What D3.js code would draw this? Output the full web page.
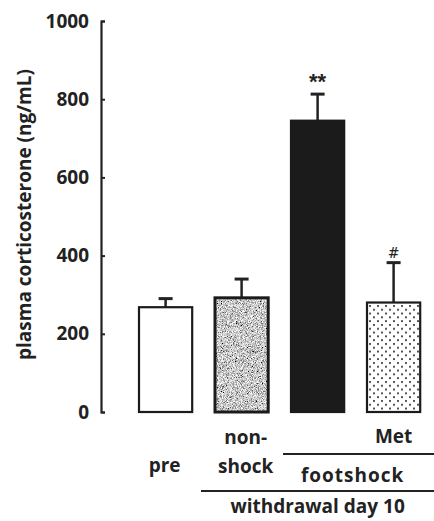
<!DOCTYPE html>
<html>
<head>
<meta charset="utf-8">
<script src="https://cdn.jsdelivr.net/npm/d3@7"></script>
<style>
  html, body { margin: 0; padding: 0; background: #fff; }
  svg { display: block; font-family: "Open Sans", sans-serif; }
</style>
</head>
<body>
<div class="chart"></div>
<script>
(function () {
  'use strict';

  // values
  var categories = ["pre", "non-shock", "footshock", "Met"];
  var means = [268, 292, 745, 280];
  var sems = [22, 48, 68, 102];
  var marks = ["", "", "**", "#"];
  var yTicks = [0, 200, 400, 600, 800, 1000];

  var w = 434;
  var h = 521;

  var svg = d3.select(".chart").append("svg").attr("width", w).attr("height", h);
  var defs = svg.append("defs");

  // speckled grey for the non-shock bar
  var noise = defs.append("filter").attr("id", "speckle")
    .attr("x", 0).attr("y", 0).attr("width", 1).attr("height", 1);
  noise.append("feTurbulence").attr("type", "fractalNoise")
    .attr("baseFrequency", 1.2).attr("numOctaves", 2).attr("seed", 3).attr("result", "n");
  noise.append("feColorMatrix").attr("in", "n").attr("type", "matrix")
    .attr("values", "2.0 0 0 0 -0.42  2.0 0 0 0 -0.42  2.0 0 0 0 -0.42  0 0 0 0 1")
    .attr("result", "g");
  noise.append("feComposite").attr("in", "g").attr("in2", "SourceGraphic").attr("operator", "in");

  // dotted fill for the Met bar
  var dots = defs.append("pattern").attr("id", "dots").attr("patternUnits", "userSpaceOnUse")
    .attr("width", 8).attr("height", 7.6);
  dots.append("rect").attr("width", 8).attr("height", 7.6).attr("fill", "#fff");
  dots.append("circle").attr("cx", 2).attr("cy", 2).attr("r", 1).attr("fill", "#222");
  dots.append("circle").attr("cx", 6).attr("cy", 5.8).attr("r", 1).attr("fill", "#222");

  var fills = ["#fff", "#888", "#1b1b1b", "url(#dots)"];

  var x = d3.scaleBand().domain(categories).range([127.6, 431.6])
    .paddingInner(0.3).paddingOuter(0.15);
  var y = d3.scaleLinear().domain([0, 1000]).range([412, 21]);

  var data = categories.map(function (c, i) {
    return { cat: c, mean: means[i], sem: sems[i], mark: marks[i], fill: fills[i] };
  });

  // y axis, ticks pointing inward
  var yAxis = svg.append("g").attr("transform", "translate(101,0)")
    .call(d3.axisLeft(y).tickValues(yTicks).tickFormat(d3.format("d")).tickSize(-4).tickPadding(12));
  yAxis.select(".domain").attr("stroke", "#222").attr("stroke-width", 2.2);
  yAxis.selectAll(".tick line").attr("stroke", "#222").attr("stroke-width", 2);
  yAxis.selectAll(".tick text").attr("font-size", 19).attr("font-weight", 700)
    .attr("fill", "#222").attr("font-family", "Open Sans");

  svg.append("text")
    .attr("transform", "translate(31," + y(505) + ") rotate(-90)")
    .attr("text-anchor", "middle")
    .attr("font-size", 19).attr("font-weight", 700).attr("fill", "#222")
    .text("plasma corticosterone (ng/mL)");

  // error bars (upper only)
  var err = svg.append("g").selectAll("g").data(data).enter().append("g");
  err.append("line")
    .attr("x1", function (d) { return x(d.cat) + x.bandwidth() / 2; })
    .attr("x2", function (d) { return x(d.cat) + x.bandwidth() / 2; })
    .attr("y1", function (d) { return y(d.mean); })
    .attr("y2", function (d) { return y(d.mean + d.sem); })
    .attr("stroke", "#222").attr("stroke-width", 2.5);
  err.append("line")
    .attr("x1", function (d) { return x(d.cat) + x.bandwidth() / 2 - 7; })
    .attr("x2", function (d) { return x(d.cat) + x.bandwidth() / 2 + 7; })
    .attr("y1", function (d) { return y(d.mean + d.sem); })
    .attr("y2", function (d) { return y(d.mean + d.sem); })
    .attr("stroke", "#222").attr("stroke-width", 3);

  // bars
  var bars = svg.append("g").selectAll("g").data(data).enter().append("g");
  bars.append("rect")
    .attr("x", function (d) { return x(d.cat); })
    .attr("y", function (d) { return y(d.mean); })
    .attr("width", x.bandwidth())
    .attr("height", function (d) { return y(0) - y(d.mean); })
    .attr("fill", function (d) { return d.fill; })
    .attr("filter", function (d) { return d.cat === "non-shock" ? "url(#speckle)" : null; });
  bars.append("rect")
    .attr("x", function (d) { return x(d.cat); })
    .attr("y", function (d) { return y(d.mean); })
    .attr("width", x.bandwidth())
    .attr("height", function (d) { return y(0) - y(d.mean); })
    .attr("fill", "none")
    .attr("stroke", "#1b1b1b")
    .attr("stroke-width", function (d) { return d.cat === "non-shock" ? 3 : 2.2; });

  // significance marks
  svg.append("g").selectAll("text").data(data.filter(function (d) { return d.mark; })).enter()
    .append("text")
    .attr("x", function (d) { return x(d.cat) + x.bandwidth() / 2; })
    .attr("y", function (d) { return y(d.mean + d.sem) - 5; })
    .attr("text-anchor", "middle")
    .attr("font-family", function (d) { return d.mark === "#" ? "DejaVu Serif" : "Liberation Sans"; })
    .attr("font-size", function (d) { return d.mark === "#" ? 14 : 22; })
    .attr("font-weight", function (d) { return d.mark === "#" ? 400 : 700; })
    .attr("fill", "#222")
    .text(function (d) { return d.mark; });

  // category labels and grouping lines
  function cx(c) { return x(c) + x.bandwidth() / 2; }
  var lab = svg.append("g").attr("font-size", 19).attr("font-weight", 700)
    .attr("fill", "#222").attr("text-anchor", "middle");
  lab.append("text").attr("x", cx("pre") - 1).attr("y", 472).text("pre");
  lab.append("text").attr("x", cx("non-shock") + 4).attr("y", 444).text("non-");
  lab.append("text").attr("x", cx("non-shock") + 4).attr("y", 473).text("shock");
  lab.append("text").attr("x", cx("Met")).attr("y", 443).text("Met");
  lab.append("text").attr("x", (cx("footshock") + cx("Met")) / 2 - 3).attr("y", 482)
    .attr("letter-spacing", 1).text("footshock");
  lab.append("text").attr("x", (cx("non-shock") + cx("Met")) / 2).attr("y", 513).text("withdrawal day 10");

  var lines = svg.append("g").attr("stroke", "#222").attr("stroke-width", 2);
  lines.append("line").attr("x1", x("footshock") - 8).attr("x2", w).attr("y1", 454).attr("y2", 454);
  lines.append("line").attr("x1", x("non-shock") - 14).attr("x2", w).attr("y1", 491).attr("y2", 491);
})();
</script>
</body>
</html>
